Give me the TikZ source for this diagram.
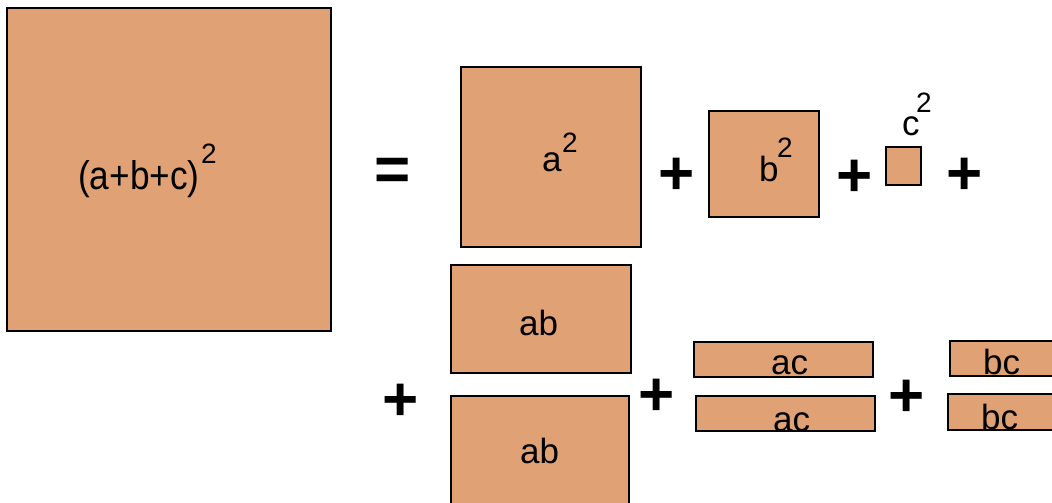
\documentclass[tikz,border=0pt]{standalone}
\usepackage{fontspec}
\setmainfont{Liberation Sans}
\definecolor{tile}{RGB}{224,161,117}
\tikzset{
  tilebox/.style={fill=tile, draw=black, line width=1.2pt},
  lbl/.style={inner sep=0pt, anchor=base west, font=\fontsize{35}{40}\selectfont},
  sup/.style={inner sep=0pt, anchor=base west, font=\fontsize{28}{32}\selectfont},
  op/.style={inner sep=0pt, anchor=base, font=\fontsize{62}{66}\selectfont\bfseries},
}
\begin{document}
\begin{tikzpicture}[x=1pt, y=-1pt]
\useasboundingbox (0,0) rectangle (1052,503);
\clip (0,0) rectangle (1052,503);
% tiles
\draw[tilebox] (7,8) rectangle (331,331);
\draw[tilebox] (461,67) rectangle (641,247);
\draw[tilebox] (709,111) rectangle (819,217);
\draw[tilebox] (886,147) rectangle (921,185);
\draw[tilebox] (451,265) rectangle (631,373);
\draw[tilebox] (451,396) rectangle (629,520);
\draw[tilebox] (694,342) rectangle (873,377);
\draw[tilebox] (696,396) rectangle (875,431);
\draw[tilebox] (950,341) rectangle (1070,376);
\draw[tilebox] (948,394) rectangle (1070,430);
% labels
\node[lbl, font=\fontsize{40}{44}\selectfont] (big) at (78,189) {\scalebox{0.88}[1]{(a+b+c)}};
\node[sup] (bigsq) at (201,163) {2};
\node[lbl] (a) at (542,171) {a};
\node[sup] (asq) at (562,152) {2};
\node[lbl] (b) at (759,181) {b};
\node[sup] (bsq) at (777,157) {2};
\node[lbl] (c) at (902,135) {c};
\node[sup] (csq) at (916,112) {2};
\node[lbl] (ab1) at (519,335) {ab};
\node[lbl] (ab2) at (520,463) {ab};
\node[lbl] (ac1) at (771,374) {ac};
\node[lbl] (ac2) at (773,431) {ac};
\node[lbl] (bc1) at (983,374) {bc};
\node[lbl] (bc2) at (981,429) {bc};
% operators
\node[op] (eq) at (393,190) {=};
\node[op] (p1) at (677,194) {+};
\node[op] (p2) at (855,196) {+};
\node[op] (p3) at (965,194) {+};
\node[op] (p4) at (401,420) {+};
\node[op] (p5) at (657,415) {+};
\node[op] (p6) at (907,416) {+};
\end{tikzpicture}
\end{document}
